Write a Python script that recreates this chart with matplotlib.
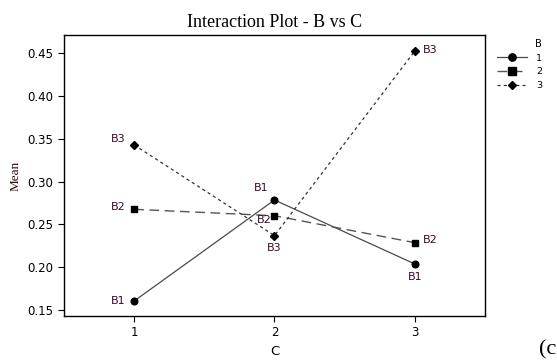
import matplotlib
matplotlib.use("Agg")
import matplotlib.pyplot as plt

# Mean response for each level of B across the levels of C
c_levels = [1, 2, 3]
b1_means = [0.1605, 0.2786, 0.2038]
b2_means = [0.2677, 0.2602, 0.2287]
b3_means = [0.3429, 0.2369, 0.4527]
series_names = ["1", "2", "3"]
point_tags = ["B1", "B2", "B3"]
y_ticks = [0.15, 0.20, 0.25, 0.30, 0.35, 0.40, 0.45]

sans = ["DejaVu Sans"]
serif = ["Liberation Serif", "DejaVu Serif"]

fig = plt.figure(figsize=(5.57, 3.64), dpi=100)
ax = fig.add_axes([0.1149, 0.1319, 0.7558, 0.7719])

styles = [
    dict(marker="o", color="#4a4a4a", ls="-", lw=0.9, dashes=None, ms=4.8),
    dict(marker="s", color="#555555", ls="--", lw=1.0, dashes=(7, 4), ms=4.8),
    dict(marker="D", color="#333333", ls="--", lw=0.9, dashes=(2.5, 2.5), ms=4.0),
]
all_means = [b1_means, b2_means, b3_means]
handles = []
for means, st, name in zip(all_means, styles, series_names):
    line, = ax.plot(c_levels, means, color=st["color"], lw=st["lw"], ls=st["ls"],
                    marker=st["marker"], markerfacecolor="black",
                    markeredgecolor="black", markersize=st["ms"], label=name)
    if st["dashes"] is not None:
        line.set_dashes(st["dashes"])
    handles.append(line)

# Point tags: offsets in points relative to each marker
offsets = {
    ("B1", 0): (-6, 0, "right", "center"),
    ("B1", 1): (-4, 5, "right", "bottom"),
    ("B1", 2): (0, -6, "center", "top"),
    ("B2", 0): (-6, 2, "right", "center"),
    ("B2", 1): (-2, -3, "right", "center"),
    ("B2", 2): (6, 2, "left", "center"),
    ("B3", 0): (-6, 4, "right", "center"),
    ("B3", 1): (0, -5, "center", "top"),
    ("B3", 2): (6, 1, "left", "center"),
}
for tag, means in zip(point_tags, all_means):
    for i, (x, y) in enumerate(zip(c_levels, means)):
        dx, dy, ha, va = offsets[(tag, i)]
        ax.annotate(tag, (x, y), xytext=(dx, dy), textcoords="offset points",
                    ha=ha, va=va, fontsize=8, color="#3a0a2a", family=sans)

ax.set_xlim(0.5, 3.5)
ax.set_ylim(0.143, 0.4714)
ax.set_xticks(c_levels)
ax.set_yticks(y_ticks)
ax.set_yticklabels([f"{v:.2f}" for v in y_ticks])
ax.tick_params(labelsize=8.5, length=4, width=0.8, colors="black")
for lab in ax.get_xticklabels() + ax.get_yticklabels():
    lab.set_family(sans)
for sp in ax.spines.values():
    sp.set_linewidth(1.0)

ax.set_xlabel("C", fontsize=9.5, family=sans, labelpad=4)
ax.set_ylabel("Mean", fontsize=9.5, family=serif, color="#2a0a0a", labelpad=4)
ax.set_title("Interaction Plot - B vs C", fontsize=13, family=serif, pad=6)

leg = ax.legend(handles=handles, title="B", loc="upper left",
                bbox_to_anchor=(1.02, 1.0), frameon=False,
                fontsize=6.8, title_fontsize=7.2, handlelength=3.2,
                handletextpad=0.9, labelspacing=0.5, borderaxespad=0.0,
                markerscale=1.1)
leg._legend_box.align = "right"
for t in leg.get_texts():
    t.set_family(sans)
leg.get_title().set_family(sans)

fig.text(556 / 557, 1 - 350 / 364, "(c", fontsize=16, family=serif,
         ha="right", va="center")

fig.savefig("out.png", dpi=100)
